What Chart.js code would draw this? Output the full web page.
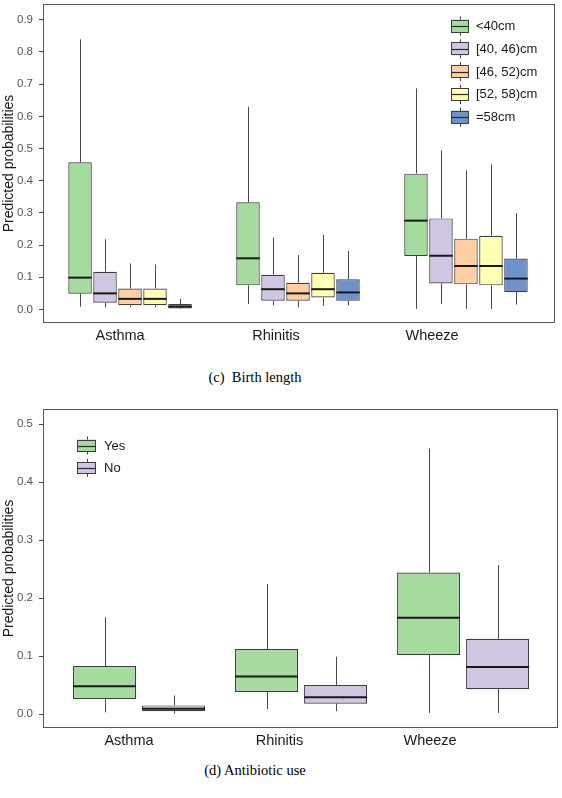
<!DOCTYPE html>
<html>
<head>
<meta charset="utf-8">
<script src="https://cdn.jsdelivr.net/npm/chart.js@4.4.1/dist/chart.umd.min.js"></script>
<style>
  html, body { margin: 0; padding: 0; background: #ffffff; }
  body { width: 562px; height: 798px; position: relative; overflow: hidden; }
  canvas { position: absolute; left: 0; }
  .cap { position: absolute; left: 0; width: 510px; text-align: center;
         font-family: "Liberation Serif", "Times New Roman", serif; font-size: 14.5px;
         line-height: 16px; color: #000; }
</style>
</head>
<body>
<canvas id="c1" width="562" height="348" style="top:0px;width:562px;height:348px"></canvas>
<div class="cap" style="top:369px">(c)&nbsp; Birth length</div>
<canvas id="c2" width="562" height="352" style="top:400px;width:562px;height:352px"></canvas>
<div class="cap" style="top:762px">(d) Antibiotic use</div>
<script>
// ---------- data ----------
const categories = ['Asthma', 'Rhinitis', 'Wheeze'];
const categoryPositions = [1, 2, 3];
const yTicksLength = [0, 0.1, 0.2, 0.3, 0.4, 0.5, 0.6, 0.7, 0.8, 0.9];
const yTicksAntibiotic = [0, 0.1, 0.2, 0.3, 0.4, 0.5];

const lengthGroups = ['<40cm', '[40, 46)cm', '[46, 52)cm', '[52, 58)cm', '=58cm'];
// each row: [lower whisker, Q1, median, Q3, upper whisker] for Asthma, Rhinitis, Wheeze
const lenLt40 = [[0.009, 0.049, 0.099, 0.457, 0.839], [0.017, 0.075, 0.159, 0.333, 0.630], [0.002, 0.166, 0.276, 0.422, 0.687]];
const len40to46 = [[0.007, 0.021, 0.050, 0.117, 0.218], [0.013, 0.027, 0.063, 0.108, 0.224], [0.017, 0.081, 0.167, 0.283, 0.494]];
const len46to52 = [[0.007, 0.013, 0.033, 0.065, 0.143], [0.007, 0.027, 0.050, 0.083, 0.169], [0.002, 0.078, 0.135, 0.220, 0.432]];
const len52to58 = [[0.007, 0.013, 0.033, 0.065, 0.140], [0.011, 0.037, 0.063, 0.114, 0.232], [0.002, 0.075, 0.135, 0.229, 0.451]];
const lenGe58 = [[0.001, 0.003, 0.009, 0.017, 0.033], [0.013, 0.027, 0.053, 0.094, 0.183], [0.015, 0.054, 0.096, 0.158, 0.299]];

const antibioticGroups = ['Yes', 'No'];
const abxYes = [[0.003, 0.026, 0.048, 0.083, 0.167], [0.008, 0.038, 0.065, 0.112, 0.224], [0.002, 0.102, 0.166, 0.244, 0.458]];
const abxNo = [[0.001, 0.005, 0.009, 0.015, 0.032], [0.005, 0.018, 0.029, 0.050, 0.099], [0.002, 0.043, 0.081, 0.130, 0.257]];

// ---------- style ----------
const colorsLength = ['#a6dba0', '#d0c6e2', '#fdcfa2', '#ffffb3', '#6f93c8'];
const colorsAbx = ['#a6dba0', '#d0c6e2'];
const FONT = "'Liberation Sans', Arial, sans-serif";
const EDGE = '#3d3d3d';

function makeDatasets(groups, statsList, colors) {
  return groups.map((g, k) => ({
    label: g,
    stats: statsList[k],
    data: categoryPositions.map((p, i) => ({ x: p, y: [statsList[k][i][1], statsList[k][i][3]] })),
    backgroundColor: colors[k],
    borderColor: EDGE,
    borderWidth: 1.2,
    borderSkipped: false,
    xAxisID: 'x',
    yAxisID: 'y'
  }));
}

const boxPlugin = {
  id: 'boxWhiskers',
  beforeDatasetsDraw(chart) {
    const ctx = chart.ctx, ys = chart.scales.y;
    ctx.save();
    ctx.strokeStyle = '#4a4a4a'; ctx.lineWidth = 1;
    chart.data.datasets.forEach((ds, di) => {
      chart.getDatasetMeta(di).data.forEach((el, i) => {
        const s = ds.stats[i];
        const x = Math.round(el.x) + 0.5;
        ctx.beginPath();
        ctx.moveTo(x, ys.getPixelForValue(s[4])); ctx.lineTo(x, ys.getPixelForValue(s[3]));
        ctx.moveTo(x, ys.getPixelForValue(s[1])); ctx.lineTo(x, ys.getPixelForValue(s[0]));
        ctx.stroke();
      });
    });
    ctx.restore();
  },
  afterDatasetsDraw(chart) {
    const ctx = chart.ctx, ys = chart.scales.y;
    ctx.save();
    ctx.strokeStyle = '#1a1a1a'; ctx.lineWidth = 2;
    chart.data.datasets.forEach((ds, di) => {
      chart.getDatasetMeta(di).data.forEach((el, i) => {
        const s = ds.stats[i];
        const y = ys.getPixelForValue(s[2]);
        ctx.beginPath();
        ctx.moveTo(el.x - el.width / 2, y); ctx.lineTo(el.x + el.width / 2, y);
        ctx.stroke();
      });
    });
    // legend
    const lg = chart.options.plugins.boxLegend;
    chart.data.datasets.forEach((ds, k) => {
      const cy = lg.y + k * lg.step;
      const x0 = lg.x, w = lg.w, h = lg.h;
      const cx = Math.round(x0 + w / 2) + 0.5;
      ctx.strokeStyle = EDGE; ctx.lineWidth = 1;
      ctx.beginPath(); ctx.moveTo(cx, cy - h / 2 - 3); ctx.lineTo(cx, cy + h / 2 + 3); ctx.stroke();
      ctx.fillStyle = ds.backgroundColor;
      ctx.fillRect(x0, cy - h / 2, w, h);
      ctx.strokeRect(x0 + 0.5, Math.round(cy - h / 2) + 0.5, w - 1, h - 1);
      ctx.strokeStyle = '#2a2a2a'; ctx.lineWidth = 1.2;
      ctx.beginPath(); ctx.moveTo(x0 + 1, Math.round(cy) + 0.5); ctx.lineTo(x0 + w - 1, Math.round(cy) + 0.5); ctx.stroke();
      ctx.fillStyle = '#1a1a1a';
      ctx.font = lg.font + 'px ' + FONT;
      ctx.textBaseline = 'middle'; ctx.textAlign = 'left';
      ctx.fillText(ds.label, lg.tx, cy + 0.5);
    });
    ctx.restore();
  },
  afterDraw(chart) {
    const a = chart.chartArea, ctx = chart.ctx;
    ctx.save();
    ctx.strokeStyle = '#555555'; ctx.lineWidth = 1;
    ctx.strokeRect(a.left + 0.5, a.top + 0.5, a.right - a.left - 1, a.bottom - a.top - 1);
    ctx.restore();
  }
};

function makeChart(id, datasets, cfg) {
  return new Chart(document.getElementById(id), {
    type: 'bar',
    data: { datasets },
    plugins: [boxPlugin],
    options: {
      responsive: false,
      animation: false,
      events: [],
      barPercentage: cfg.barPct,
      categoryPercentage: cfg.catPct,
      layout: { padding: { left: 0, right: cfg.padRight, top: cfg.padTop, bottom: 0 } },
      plugins: {
        legend: { display: false },
        tooltip: { enabled: false },
        boxLegend: cfg.legend
      },
      scales: {
        x: {
          type: 'linear', display: false, min: cfg.xMin, max: cfg.xMax,
          offset: false, grid: { offset: false },
          afterBuildTicks: (ax) => { ax.ticks = categoryPositions.map(v => ({ value: v })); }
        },
        xl: {
          type: 'linear', position: 'bottom', min: cfg.lMin, max: cfg.lMax,
          offset: false,
          grid: { display: false, drawTicks: false, offset: false },
          border: { display: false },
          afterBuildTicks: (ax) => { ax.ticks = categoryPositions.map(v => ({ value: v })); },
          afterFit: (ax) => { ax.height = cfg.xlHeight; ax.paddingLeft = 0; ax.paddingRight = 0; },
          ticks: {
            padding: cfg.xlPad, autoSkip: false, maxRotation: 0,
            color: '#1a1a1a', font: { family: FONT, size: 14.5 },
            callback: (v) => categories[categoryPositions.indexOf(v)]
          }
        },
        y: {
          type: 'linear', min: cfg.yMin, max: cfg.yMax,
          afterBuildTicks: (ax) => { ax.ticks = cfg.yTicks.map(v => ({ value: v })); },
          afterFit: (ax) => { ax.width = 43; ax.paddingTop = 0; ax.paddingBottom = 0; },
          grid: { display: true, drawOnChartArea: false, drawTicks: true, tickLength: 4, color: '#444444' },
          border: { display: false },
          ticks: {
            padding: 6, color: '#555555', font: { family: FONT, size: 11.5 },
            callback: (v) => Number(v).toFixed(1)
          },
          title: {
            display: true, text: 'Predicted probabilities', color: '#1a1a1a',
            font: { family: FONT, size: 14 }, padding: { top: 1, bottom: 0 }
          }
        }
      }
    }
  });
}

makeChart('c1', makeDatasets(lengthGroups, [lenLt40, len40to46, len46to52, len52to58, lenGe58], colorsLength), {
  barPct: 0.94, catPct: 0.744,
  padRight: 7, padTop: 4, xlHeight: 25, xlPad: 4,
  xMin: 0.482, xMax: 3.53, lMin: 0.506, lMax: 3.788,
  yMin: -0.042, yMax: 0.949, yTicks: yTicksLength,
  legend: { x: 451, w: 18, h: 13, y: 26, step: 22.8, tx: 476, font: 13 }
});

makeChart('c2', makeDatasets(antibioticGroups, [abxYes, abxNo], colorsAbx), {
  barPct: 0.913, catPct: 0.852,
  padRight: 4, padTop: 9, xlHeight: 24, xlPad: 4,
  xMin: 0.407, xMax: 3.586, lMin: 0.429, lMax: 3.85,
  yMin: -0.024, yMax: 0.526, yTicks: yTicksAntibiotic,
  legend: { x: 77, w: 19, h: 12, y: 45.5, step: 22.3, tx: 104, font: 13 }
});
</script>
</body>
</html>
